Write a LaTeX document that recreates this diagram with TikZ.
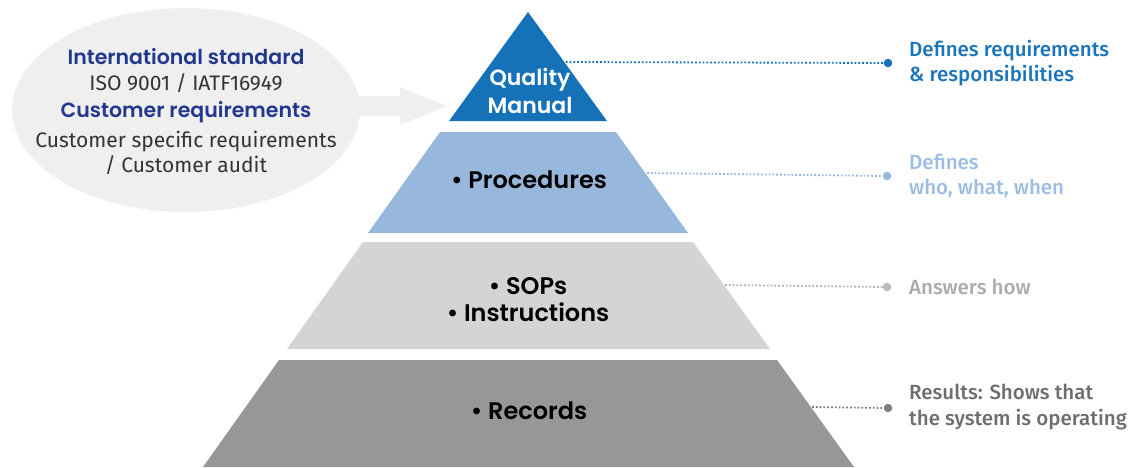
\documentclass[tikz,border=0pt]{standalone}
\usepackage{fontspec}
\setmainfont{Fira Sans}
\newfontfamily\popm{Poppins Medium}
\newfontfamily\pops{Poppins SemiBold}
\newfontfamily\firam{Fira Sans Medium}
\newfontfamily\firal{Fira Sans}
\definecolor{qmblue}{HTML}{1672B8}
\definecolor{procblue}{HTML}{97B7DD}
\definecolor{sopgray}{HTML}{D4D4D4}
\definecolor{recgray}{HTML}{979797}
\definecolor{txtblue}{HTML}{1B75BB}
\definecolor{txtlblue}{HTML}{9CBDE3}
\definecolor{txtlgray}{HTML}{ABABAB}
\definecolor{txtdgray}{HTML}{6E6E6E}
\definecolor{navy}{HTML}{22388F}
\definecolor{ellgray}{HTML}{EFEFEF}
\definecolor{bodygray}{HTML}{333333}
\begin{document}
\begin{tikzpicture}[x=1pt,y=-1pt,
  tier/.style={inner sep=0pt, font=\pops\fontsize{24}{27}\selectfont, align=center},
  leader/.style={line width=1.8pt, dash pattern=on 1.8pt off 2pt},
  enddot/.style={circle, fill, inner sep=0pt, minimum size=8.5pt},
  rtext/.style={anchor=west, inner sep=0pt, align=left, font=\firam\fontsize{20.5}{25.5}\selectfont},
  lhead/.style={inner sep=0pt, text=navy, font=\pops\fontsize{20.5}{23}\selectfont},
  lbody/.style={inner sep=0pt, text=bodygray, font=\firal\fontsize{21}{25}\selectfont, align=center}
]
\useasboundingbox (0,0) rectangle (1142,467);
% left ellipse and arrow
\fill[ellgray] (186,110) ellipse [x radius=174, y radius=102];
\fill[ellgray] (350,96) -- (400,96) -- (400,87) -- (447,106) -- (400,125) -- (400,116) -- (350,116) -- cycle;
\node[lhead] (is) at (186,57) {International standard};
\node[lbody] (iso) at (186,83) {ISO 9001 / IATF16949};
\node[lhead] (cr) at (186,112) {Customer requirements};
\node[lbody] (csr) at (186,153) {Customer specific requirements\\/ Customer audit};
% pyramid
\fill[qmblue] (528,12) -- (607,121) -- (449,121) -- cycle;
\fill[procblue] (440,132) -- (616,132) -- (688,233) -- (368,233) -- cycle;
\fill[sopgray] (363,242) -- (693,242) -- (770,349) -- (287,349) -- cycle;
\fill[recgray] (279,360) -- (777,360) -- (854,467) -- (203,467) -- cycle;
\node[tier, text=white, font=\pops\fontsize{22}{28}\selectfont] (qm) at (530,91) {Quality\\Manual};
\node[tier] (proc) at (529,180) {•~Procedures};
\node[tier] (sop) at (528,300) {•~SOPs\\•~Instructions};
\node[tier] (rec) at (529,411) {•~Records};
% leader lines
\coordinate (e1) at (562,62);
\coordinate (e2) at (647,173);
\coordinate (e3) at (725,285);
\coordinate (e4) at (812,407);
\node[enddot, qmblue] (d1) at (888,63) {};
\node[enddot, procblue] (d2) at (887,176) {};
\node[enddot, fill=black!27] (d3) at (887,287) {};
\node[enddot, fill=black!50] (d4) at (888,408) {};
\draw[leader, qmblue] (e1) -- (d1);
\draw[leader, procblue] (e2) -- (d2);
\draw[leader, black!30] (e3) -- (d3);
\draw[leader, black!50] (e4) -- (d4);
% right texts
\node[rtext, text=txtblue] (t1) at (909,63) {Defines requirements\\\& responsibilities};
\node[rtext, text=txtlblue] (t2) at (909,176) {Defines\\who, what, when};
\node[rtext, text=txtlgray] (t3) at (909,287) {Answers how};
\node[rtext, text=txtdgray] (t4) at (909,407) {Results: Shows that\\the system is operating};
\end{tikzpicture}
\end{document}
